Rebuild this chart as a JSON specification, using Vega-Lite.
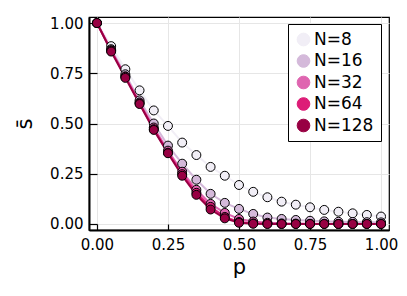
{
  "$schema": "https://vega.github.io/schema/vega-lite/v6.json",
  "width": 300,
  "height": 213,
  "autosize": "none",
  "padding": {"left": 89, "top": 17, "right": 18, "bottom": 66},
  "background": "white",
  "config": {
    "font": "DejaVu Sans",
    "view": {"stroke": "black", "strokeWidth": 1.2},
    "axis": {
      "domainColor": "black", "domainWidth": 2,
      "tickColor": "black", "tickWidth": 1.2,
      "gridColor": "#e6e6e6", "gridWidth": 1,
      "labelColor": "black", "titleColor": "black",
      "labelFontSize": 15, "titleFontSize": 21, "titleFontWeight": "normal",
      "labelFont": "DejaVu Sans", "titleFont": "DejaVu Sans"
    }
  },
  "data": {"values": [
    {"N":"N=8","p":0,"s":1},{"N":"N=8","p":0.05,"s":0.885},{"N":"N=8","p":0.1,"s":0.77},{"N":"N=8","p":0.15,"s":0.665},{"N":"N=8","p":0.2,"s":0.565},{"N":"N=8","p":0.25,"s":0.488},{"N":"N=8","p":0.3,"s":0.405},{"N":"N=8","p":0.35,"s":0.343},{"N":"N=8","p":0.4,"s":0.284},{"N":"N=8","p":0.45,"s":0.24},{"N":"N=8","p":0.5,"s":0.194},{"N":"N=8","p":0.55,"s":0.16},{"N":"N=8","p":0.6,"s":0.133},{"N":"N=8","p":0.65,"s":0.111},{"N":"N=8","p":0.7,"s":0.096},{"N":"N=8","p":0.75,"s":0.083},{"N":"N=8","p":0.8,"s":0.07},{"N":"N=8","p":0.85,"s":0.061},{"N":"N=8","p":0.9,"s":0.053},{"N":"N=8","p":0.95,"s":0.045},{"N":"N=8","p":1,"s":0.037},
    {"N":"N=16","p":0,"s":1},{"N":"N=16","p":0.05,"s":0.87},{"N":"N=16","p":0.1,"s":0.745},{"N":"N=16","p":0.15,"s":0.615},{"N":"N=16","p":0.2,"s":0.5},{"N":"N=16","p":0.25,"s":0.39},{"N":"N=16","p":0.3,"s":0.3},{"N":"N=16","p":0.35,"s":0.22},{"N":"N=16","p":0.4,"s":0.15},{"N":"N=16","p":0.45,"s":0.105},{"N":"N=16","p":0.5,"s":0.075},{"N":"N=16","p":0.55,"s":0.05},{"N":"N=16","p":0.6,"s":0.032},{"N":"N=16","p":0.65,"s":0.025},{"N":"N=16","p":0.7,"s":0.02},{"N":"N=16","p":0.75,"s":0.016},{"N":"N=16","p":0.8,"s":0.013},{"N":"N=16","p":0.85,"s":0.011},{"N":"N=16","p":0.9,"s":0.01},{"N":"N=16","p":0.95,"s":0.009},{"N":"N=16","p":1,"s":0.008},
    {"N":"N=32","p":0,"s":1},{"N":"N=32","p":0.05,"s":0.865},{"N":"N=32","p":0.1,"s":0.735},{"N":"N=32","p":0.15,"s":0.605},{"N":"N=32","p":0.2,"s":0.48},{"N":"N=32","p":0.25,"s":0.365},{"N":"N=32","p":0.3,"s":0.26},{"N":"N=32","p":0.35,"s":0.17},{"N":"N=32","p":0.4,"s":0.1},{"N":"N=32","p":0.45,"s":0.055},{"N":"N=32","p":0.5,"s":0.025},{"N":"N=32","p":0.55,"s":0.012},{"N":"N=32","p":0.6,"s":0.006},{"N":"N=32","p":0.65,"s":0.003},{"N":"N=32","p":0.7,"s":0.002},{"N":"N=32","p":0.75,"s":0.001},{"N":"N=32","p":0.8,"s":0.001},{"N":"N=32","p":0.85,"s":0},{"N":"N=32","p":0.9,"s":0},{"N":"N=32","p":0.95,"s":0},{"N":"N=32","p":1,"s":0},
    {"N":"N=64","p":0,"s":1},{"N":"N=64","p":0.05,"s":0.862},{"N":"N=64","p":0.1,"s":0.732},{"N":"N=64","p":0.15,"s":0.6},{"N":"N=64","p":0.2,"s":0.472},{"N":"N=64","p":0.25,"s":0.355},{"N":"N=64","p":0.3,"s":0.248},{"N":"N=64","p":0.35,"s":0.155},{"N":"N=64","p":0.4,"s":0.085},{"N":"N=64","p":0.45,"s":0.035},{"N":"N=64","p":0.5,"s":0.01},{"N":"N=64","p":0.55,"s":0.003},{"N":"N=64","p":0.6,"s":0.001},{"N":"N=64","p":0.65,"s":0},{"N":"N=64","p":0.7,"s":0},{"N":"N=64","p":0.75,"s":0},{"N":"N=64","p":0.8,"s":0},{"N":"N=64","p":0.85,"s":0},{"N":"N=64","p":0.9,"s":0},{"N":"N=64","p":0.95,"s":0},{"N":"N=64","p":1,"s":0},
    {"N":"N=128","p":0,"s":1},{"N":"N=128","p":0.05,"s":0.858},{"N":"N=128","p":0.1,"s":0.727},{"N":"N=128","p":0.15,"s":0.597},{"N":"N=128","p":0.2,"s":0.468},{"N":"N=128","p":0.25,"s":0.352},{"N":"N=128","p":0.3,"s":0.24},{"N":"N=128","p":0.35,"s":0.145},{"N":"N=128","p":0.4,"s":0.072},{"N":"N=128","p":0.45,"s":0.028},{"N":"N=128","p":0.5,"s":0.006},{"N":"N=128","p":0.55,"s":0.001},{"N":"N=128","p":0.6,"s":0},{"N":"N=128","p":0.65,"s":0},{"N":"N=128","p":0.7,"s":0},{"N":"N=128","p":0.75,"s":0},{"N":"N=128","p":0.8,"s":0},{"N":"N=128","p":0.85,"s":0},{"N":"N=128","p":0.9,"s":0},{"N":"N=128","p":0.95,"s":0},{"N":"N=128","p":1,"s":0}
  ]},
  "encoding": {
    "x": {"field": "p", "type": "quantitative",
      "scale": {"domain": [-0.028, 1.028], "nice": false, "zero": false},
      "axis": {"values": [0, 0.25, 0.5, 0.75, 1], "format": ".2f", "title": "p", "tickSize": -6, "labelPadding": 13, "titlePadding": 4, "labelFlush": false}},
    "y": {"field": "s", "type": "quantitative",
      "scale": {"domain": [-0.03, 1.03], "nice": false, "zero": false},
      "axis": {"values": [0, 0.25, 0.5, 0.75, 1], "format": ".2f", "title": "s\u0304", "tickSize": -8, "labelPadding": 14, "titlePadding": 14}},
    "color": {"field": "N", "type": "nominal",
      "scale": {"domain": ["N=8", "N=16", "N=32", "N=64", "N=128"], "range": ["#f1eef6", "#d4b9da", "#df65b0", "#dd1c77", "#980043"]}}
  },
  "layer": [
    {"mark": {"type": "line", "strokeWidth": 2}, "encoding": {"detail": {"field": "N"}}},
    {"mark": {"type": "point", "filled": true, "opacity": 1, "size": 80, "stroke": "black", "strokeWidth": 1, "shape": "circle"},
      "encoding": {
        "color": {"field": "N", "type": "nominal",
          "scale": {"domain": ["N=8", "N=16", "N=32", "N=64", "N=128"], "range": ["#f1eef6", "#d4b9da", "#df65b0", "#dd1c77", "#980043"]},
          "legend": {"orient": "none", "legendX": 199, "legendY": 7, "title": null,
            "fillColor": "white", "strokeColor": "black", "padding": 7,
            "symbolType": "circle", "symbolSize": 160, "symbolStrokeColor": "black", "symbolStrokeWidth": 1, "symbolOpacity": 1,
            "labelFontSize": 17, "labelFont": "DejaVu Sans", "labelColor": "black", "labelOffset": 2, "rowPadding": 3.5}}
      }}
  ]
}
